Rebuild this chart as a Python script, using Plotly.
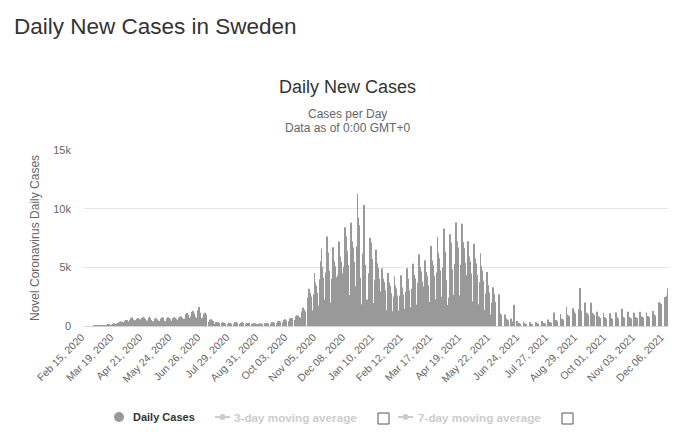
import pandas as pd
import plotly.graph_objects as go

# Daily new cases in Sweden, one row per week (Sat, Sun, Mon, Tue, Wed, Thu, Fri), from Feb 15, 2020
daily_cases = [
    0, 0, 0, 0, 0, 0, 0,
    0, 0, 0, 0, 1, 0, 5,
    2, 0, 1, 0, 3, 5, 2,
    1, 20, 35, 42, 79, 45, 107,
    110, 57, 80, 82, 141, 134, 228,
    148, 146, 226, 235, 318, 361, 401,
    273, 333, 253, 328, 455, 512, 490,
    415, 307, 387, 512, 687, 722, 544,
    466, 332, 465, 497, 610, 685, 606,
    563, 392, 545, 682, 751, 733, 599,
    463, 401, 465, 695, 790, 676, 514,
    409, 325, 410, 605, 702, 648, 571,
    463, 344, 421, 642, 705, 726, 598,
    438, 303, 412, 631, 744, 676, 566,
    478, 324, 447, 664, 731, 697, 623,
    514, 356, 498, 705, 781, 815, 710,
    603, 428, 617, 912, 1024, 1098, 956,
    710, 523, 803, 1214, 1298, 1267, 1056,
    788, 612, 702, 1318, 1612, 1427, 1130,
    653, 498, 718, 1045, 1124, 983, 812,
    0, 0, 354, 533, 572, 488, 421,
    0, 0, 198, 312, 336, 298, 267,
    0, 0, 176, 268, 301, 283, 245,
    0, 0, 162, 247, 276, 259, 221,
    0, 0, 205, 318, 342, 327, 284,
    0, 0, 188, 286, 309, 294, 252,
    0, 0, 160, 251, 275, 262, 229,
    0, 0, 134, 205, 236, 221, 189,
    0, 0, 126, 193, 214, 203, 177,
    0, 0, 148, 236, 257, 244, 212,
    0, 0, 186, 304, 336, 312, 268,
    0, 0, 241, 412, 456, 431, 362,
    0, 0, 318, 512, 573, 548, 468,
    0, 0, 402, 611, 688, 653, 559,
    0, 0, 512, 823, 912, 866, 748,
    0, 0, 704, 1240, 1582, 1415, 1236,
    0, 0, 1345, 2412, 3185, 2820, 2519,
    1320, 980, 2710, 4520, 3690, 3420, 2830,
    1750, 1290, 3980, 5520, 6610, 5030, 4120,
    2240, 1680, 4560, 7620, 6240, 5790, 4710,
    2010, 1480, 4020, 6720, 5510, 5100, 4160,
    2180, 1590, 4330, 7210, 5920, 5480, 4470,
    2520, 1850, 5040, 8410, 7630, 6390, 5210,
    2650, 1940, 5280, 8810, 7220, 6700, 5460,
    3390, 2490, 6780, 11280, 9250, 8590, 4120,
    1850, 1420, 6180, 10320, 8460, 5210, 2140,
    2250, 1650, 4500, 7520, 7110, 5720, 4660,
    1950, 1430, 3900, 6510, 5340, 4950, 4030,
    1470, 1080, 2940, 4910, 4030, 3730, 3040,
    1350, 990, 2700, 4510, 3700, 3430, 2800,
    1260, 920, 2520, 4210, 3450, 3200, 2610,
    1290, 950, 2580, 4320, 3540, 3280, 2680,
    1470, 1080, 2940, 4920, 4030, 3740, 3050,
    1590, 1170, 3180, 5310, 4350, 4040, 3290,
    1830, 1340, 3660, 6110, 5010, 4640, 3790,
    1680, 1230, 3360, 5610, 4600, 4260, 3480,
    2040, 1500, 4080, 6820, 5590, 5180, 4230,
    2280, 1670, 4560, 7610, 6240, 5780, 4720,
    2490, 1830, 4980, 8310, 6810, 6320, 3900,
    1800, 1300, 2400, 7820, 7100, 5940, 4840,
    2640, 1940, 5280, 8820, 7230, 6700, 5470,
    2610, 1910, 5220, 8710, 7140, 6620, 5400,
    2160, 1580, 4320, 7230, 5930, 5490, 4480,
    2100, 1540, 4200, 7010, 5750, 5330, 4350,
    1860, 1360, 3720, 6210, 5090, 4720, 3850,
    1380, 1010, 2760, 4610, 3780, 3500, 2860,
    990, 730, 1980, 3310, 2710, 2520, 2050,
    0, 0, 0, 2710, 1080, 980, 820,
    0, 0, 0, 980, 610, 560, 480,
    0, 0, 0, 640, 380, 350, 1810,
    0, 0, 0, 420, 260, 230, 190,
    0, 0, 0, 380, 240, 210, 180,
    0, 0, 0, 310, 200, 180, 160,
    0, 0, 0, 330, 210, 190, 170,
    0, 0, 0, 420, 260, 240, 210,
    0, 0, 0, 560, 350, 320, 280,
    0, 0, 0, 1150, 520, 480, 420,
    0, 0, 0, 1020, 640, 600, 540,
    0, 0, 0, 1610, 980, 920, 830,
    0, 0, 0, 1520, 1240, 1180, 1060,
    0, 0, 0, 1420, 3240, 1300, 1120,
    0, 0, 0, 2010, 1150, 1080, 960,
    0, 0, 0, 1980, 1120, 1050, 940,
    0, 0, 0, 1210, 820, 780, 690,
    0, 0, 0, 1120, 760, 720, 640,
    0, 0, 0, 1080, 720, 690, 620,
    0, 0, 0, 1150, 740, 700, 630,
    0, 0, 0, 1480, 760, 720, 650,
    0, 0, 0, 1210, 740, 700, 640,
    0, 0, 0, 1120, 760, 720, 660,
    0, 0, 0, 1220, 820, 790, 720,
    0, 0, 0, 1150, 860, 830, 760,
    0, 0, 0, 1280, 1020, 980, 900,
    0, 0, 0, 2020, 1960, 1920, 1880,
    0, 0, 0, 2480, 2350, 2610, 3220,
]
start_date = "2020-02-15"
y_tick_values = [0, 5000, 10000, 15000]
y_tick_labels = ["0", "5k", "10k", "15k"]

dates = pd.date_range(start_date, periods=len(daily_cases), freq="D")

L, R, T, B = 84, 668, 150, 326
W, H = 700, 433


def px(x):
    return (x - L) / (R - L)


def py(y):
    return (B - y) / (B - T)


FONT = "Liberation Sans, Arial, sans-serif"

fig = go.Figure()
fig.add_trace(go.Bar(
    x=dates, y=daily_cases, name="Daily Cases",
    marker=dict(color="#999999", line=dict(width=0)),
    showlegend=False,
))

fig.update_layout(
    width=W, height=H,
    margin=dict(l=L, r=W - R, t=T, b=H - B),
    paper_bgcolor="white", plot_bgcolor="white",
    bargap=0.05,
    font=dict(family=FONT, color="#666666", size=11),
    showlegend=False,
)
fig.update_xaxes(
    type="date",
    range=[dates[0] - pd.Timedelta(hours=12), dates[-1] + pd.Timedelta(hours=12)],
    tick0=start_date, dtick=33 * 86400000,
    tickformat="%b %d, %Y", tickangle=-45,
    tickfont=dict(size=10.5, color="#666666"),
    ticklabelshift=-3,
    showgrid=False, showline=True, linecolor="#ccd6eb", linewidth=1,
    ticks="", zeroline=False,
)
fig.update_yaxes(
    range=[0, 15000], tickvals=y_tick_values, ticktext=y_tick_labels,
    showgrid=True, gridcolor="#e6e6e6", gridwidth=1,
    zeroline=False, showline=False, ticks="",
    ticklabelstandoff=12,
    tickfont=dict(size=11, color="#666666"),
)

ann = []
ann.append(dict(text="Daily New Cases in Sweden", x=px(12), y=py(27), xanchor="left", yanchor="middle",
                font=dict(family=FONT, size=22.5, color="#333333")))
ann.append(dict(text="Daily New Cases", x=px(347), y=py(87), xanchor="center", yanchor="middle",
                font=dict(family=FONT, size=18, color="#333333")))
ann.append(dict(text="Cases per Day", x=px(347), y=py(114), xanchor="center", yanchor="middle",
                font=dict(family=FONT, size=12, color="#666666")))
ann.append(dict(text="Data as of 0:00 GMT+0", x=px(347), y=py(128), xanchor="center", yanchor="middle",
                font=dict(family=FONT, size=12, color="#666666")))
ann.append(dict(text="Novel Coronavirus Daily Cases", x=px(35), y=py(238), xanchor="center", yanchor="middle",
                textangle=-90, font=dict(family=FONT, size=12, color="#666666")))
ann.append(dict(text="<b>Daily Cases</b>", x=px(131), y=py(417), xanchor="left", yanchor="middle",
                font=dict(family=FONT, size=11, color="#333333")))
ann.append(dict(text="<b>3-day moving average</b>", x=px(232), y=py(417), xanchor="left", yanchor="middle",
                font=dict(family=FONT, size=11.7, color="#cccccc")))
ann.append(dict(text="<b>7-day moving average</b>", x=px(416), y=py(417), xanchor="left", yanchor="middle",
                font=dict(family=FONT, size=11.7, color="#cccccc")))
for a in ann:
    a.update(xref="paper", yref="paper", showarrow=False)

shapes = []
shapes.append(dict(type="circle", x0=px(114), x1=px(124), y0=py(422), y1=py(412),
                   fillcolor="#999999", line=dict(width=0)))
for x0 in (215, 398):
    shapes.append(dict(type="line", x0=px(x0), x1=px(x0 + 15), y0=py(417), y1=py(417),
                       line=dict(color="#cccccc", width=2)))
    shapes.append(dict(type="circle", x0=px(x0 + 4.5), x1=px(x0 + 10.5), y0=py(420), y1=py(414),
                       fillcolor="#cccccc", line=dict(width=0)))
for x0 in (378, 562):
    shapes.append(dict(type="rect", x0=px(x0), x1=px(x0 + 11), y0=py(424), y1=py(413),
                       fillcolor="white", line=dict(color="#555555", width=1)))
for s in shapes:
    s.update(xref="paper", yref="paper")

fig.update_layout(annotations=ann, shapes=shapes)
fig.write_html(
    "out.html",
    config={"displayModeBar": False},
    post_script="document.body.style.margin='0';document.body.style.overflow='hidden';",
)
